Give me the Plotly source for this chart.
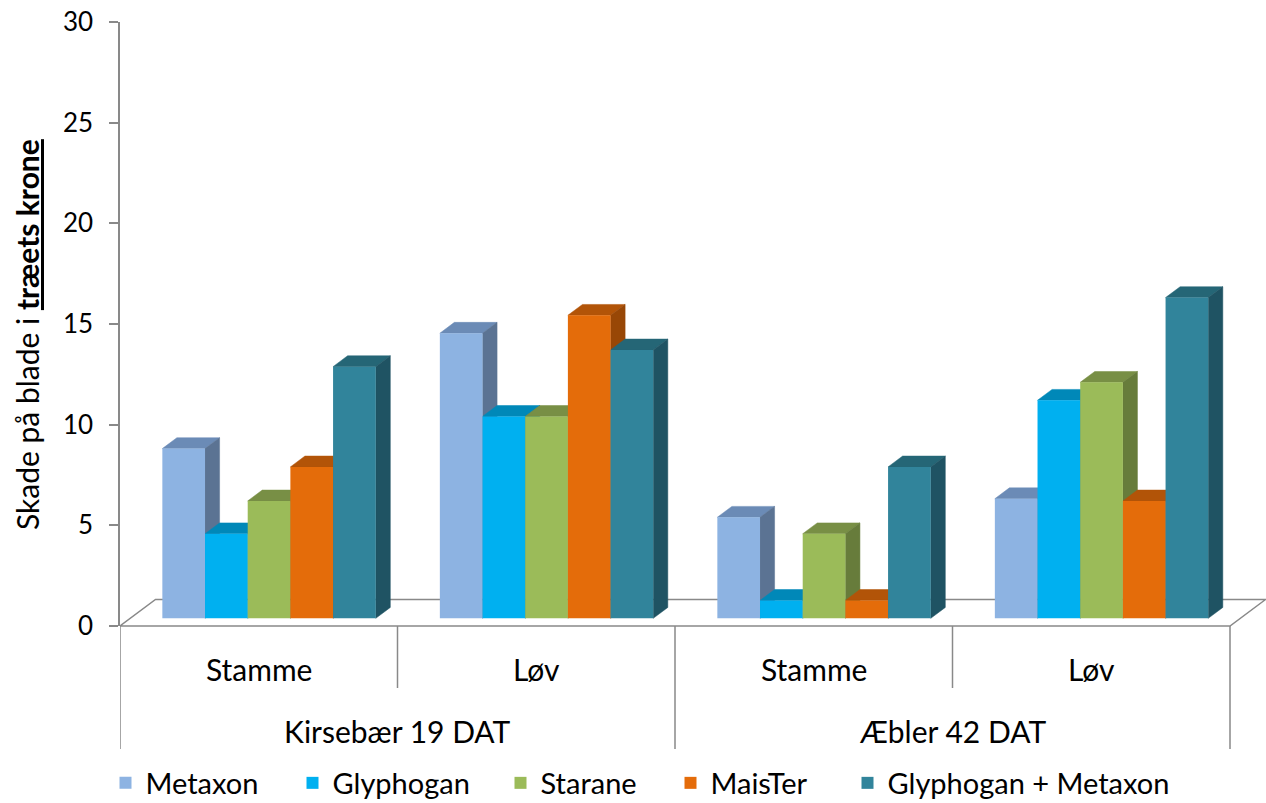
import plotly.graph_objects as go

# ---------------- data ----------------
sub_labels = ["Stamme", "Løv", "Stamme", "Løv"]
fruit_labels = ["Kirsebær 19 DAT", "Æbler 42 DAT"]
series_names = ["Metaxon", "Glyphogan", "Starane", "MaisTer", "Glyphogan + Metaxon"]
metaxon = [8.43, 14.16, 5.02, 5.94]
glyphogan = [4.20, 10.03, 0.89, 10.83]
starane = [5.83, 10.03, 4.20, 11.72]
maister = [7.52, 15.05, 0.89, 5.83]
glyph_metaxon = [12.50, 13.33, 7.52, 15.93]
y_tick_vals = [0, 5, 10, 15, 20, 25, 30]
y_title = "Skade på blade i <b><u>træets krone</u></b>"

series_values = [metaxon, glyphogan, starane, maister, glyph_metaxon]

# ---------------- style ----------------
front_colors = ["#8DB3E2", "#00B0F0", "#9BBB59", "#E46C0A", "#31849B"]
top_colors = ["#6B8BB6", "#0088B8", "#788F45", "#B25408", "#256676"]
side_colors = ["#5B7393", "#0077A3", "#677C3B", "#984706", "#1F5363"]
grey = "#898989"
FONT = "Lato"
TXT = 30

W, H = 1266, 803
ML, MR, MT, MB = 120, 0, 22, 177
plot_w = W - ML - MR
plot_h = H - MT - MB
group_px = 277.5
Y_MAX = 30
x_range = [-0.5, -0.5 + plot_w / group_px]

# oblique 3D projection parameters
floor_dx = 35.5 / group_px          # depth offset in x units
floor_dy = 26.5 * Y_MAX / plot_h    # depth offset in y units
f_front, f_back = 0.29, 0.70        # bar depth placement within floor
bar_w = 42.68 / group_px
n_series = len(series_names)
gap = 1 - n_series * bar_w
base = f_front * floor_dy
ddx = (f_back - f_front) * floor_dx
ddy = (f_back - f_front) * floor_dy
groups_x = list(range(len(sub_labels)))


def paper_y_from_px(p):
    return (H - MB - p) / plot_h


def paper_y_from_data(v):
    return v / Y_MAX


fig = go.Figure()
shapes = []

# floor (drawn in paper-y so the front edge is not clipped)
fy = paper_y_from_data(floor_dy)
x0, x1 = x_range[0], x_range[0] + len(groups_x)
shapes.append(dict(
    type="path", xref="x", yref="paper", layer="below",
    path=f"M{x0},0 L{x1},0 L{x1 + floor_dx},{fy} L{x0 + floor_dx},{fy} Z",
    fillcolor="white", line=dict(color=grey, width=1.5)))

legend_widths = [142, 163, 125, 132, 300]

for i, (name, vals) in enumerate(zip(series_names, series_values)):
    off = -0.5 + gap / 2 + i * bar_w + f_front * floor_dx
    fig.add_trace(go.Bar(
        x=groups_x, y=vals, base=base, offset=off, width=bar_w,
        name=name, marker=dict(color=front_colors[i], line=dict(width=0)),
        legendwidth=legend_widths[i],
    ))

# top and side faces, painter's order (left to right)
for g in groups_x:
    for i, vals in enumerate(series_values):
        xl = g - 0.5 + gap / 2 + i * bar_w + f_front * floor_dx
        xr = xl + bar_w
        top = base + vals[g]
        shapes.append(dict(
            type="path", xref="x", yref="y", layer="below",
            path=(f"M{xl},{top} L{xr},{top} L{xr + ddx},{top + ddy} "
                  f"L{xl + ddx},{top + ddy} Z"),
            fillcolor=top_colors[i], line=dict(color=top_colors[i], width=0.5)))
        shapes.append(dict(
            type="path", xref="x", yref="y", layer="below",
            path=(f"M{xr},{base} L{xr},{top} L{xr + ddx},{top + ddy} "
                  f"L{xr + ddx},{base + ddy} Z"),
            fillcolor=side_colors[i], line=dict(color=side_colors[i], width=0.5)))

# category dividers
inner_bottom = paper_y_from_px(688)
outer_bottom = paper_y_from_px(749)
for k in range(len(groups_x) + 1):
    xd = x_range[0] + k
    yb = outer_bottom if k % 2 == 0 else inner_bottom
    shapes.append(dict(type="line", xref="x", yref="paper", x0=xd, x1=xd,
                       y0=0, y1=yb, line=dict(color=grey, width=1.5)))

annotations = []
for g, lab in zip(groups_x, sub_labels):
    annotations.append(dict(x=g, y=paper_y_from_px(669), xref="x", yref="paper",
                            text=lab, showarrow=False, yanchor="middle",
                            font=dict(family=FONT, size=TXT, color="black")))
for j, lab in enumerate(fruit_labels):
    annotations.append(dict(x=2 * j + 0.5, y=paper_y_from_px(731), xref="x",
                            yref="paper", text=lab, showarrow=False,
                            yanchor="middle",
                            font=dict(family=FONT, size=TXT, color="black")))
annotations.append(dict(x=(27 - ML) / plot_w, y=paper_y_from_px(335),
                        xref="paper", yref="paper", text=y_title,
                        textangle=-90, showarrow=False, xanchor="center",
                        yanchor="middle",
                        font=dict(family=FONT, size=TXT, color="black")))

fig.update_layout(
    width=W, height=H,
    margin=dict(l=ML, r=MR, t=MT, b=MB, pad=0),
    plot_bgcolor="white", paper_bgcolor="white",
    barmode="overlay",
    shapes=shapes, annotations=annotations,
    font=dict(family=FONT, color="black"),
    xaxis=dict(range=x_range, visible=False, fixedrange=True),
    yaxis=dict(range=[0, Y_MAX], tickvals=y_tick_vals, showgrid=False,
               zeroline=False, showline=True, linecolor=grey, linewidth=1.5,
               ticks="outside", ticklen=9, tickcolor=grey, tickwidth=1.5,
               ticklabelstandoff=11,
               tickfont=dict(family=FONT, size=26, color="black")),
    legend=dict(orientation="h", xref="container", yref="container",
                x=105.5 / W, y=1 - 783 / H, xanchor="left", yanchor="middle",
                font=dict(family=FONT, size=29, color="black"),
                traceorder="normal"),
    showlegend=True,
)

fig.write_html("out.html")
